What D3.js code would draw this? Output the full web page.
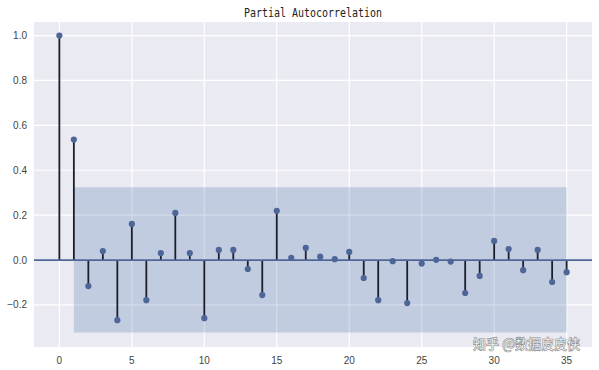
<!DOCTYPE html>
<html>
<head>
<meta charset="utf-8">
<script src="https://cdn.jsdelivr.net/npm/d3@7"></script>
<style>
  body { margin: 0; background: #fff; }
  svg { display: block; }
</style>
</head>
<body>
<svg width="599" height="370"></svg>
<script>
(function (d3) {
    'use strict';

    // partial autocorrelation per lag
    const lags = d3.range(0, 36);
    const pacf = [1.0, 0.537, -0.116, 0.040, -0.268, 0.161, -0.179, 0.031, 0.210, 0.031,
                  -0.259, 0.045, 0.045, -0.040, -0.156, 0.219, 0.010, 0.054, 0.015, 0.004,
                  0.036, -0.080, -0.179, -0.005, -0.192, -0.016, 0.001, -0.007, -0.147, -0.071,
                  0.085, 0.049, -0.045, 0.045, -0.098, -0.054];
    const confBand = [-0.323, 0.324];
    const xTicks = [0, 5, 10, 15, 20, 25, 30, 35];
    const yTicks = [-0.2, 0.0, 0.2, 0.4, 0.6, 0.8, 1.0];

    const svg = d3.select('svg');
    const left = 34, right = 592, top = 22, bottom = 347;

    const x = d3.scaleLinear().domain([-1.75, 36.75]).range([left, right]);
    const y = d3.scaleLinear().domain([-0.3875, 1.0605]).range([bottom, top]);

    const blue = '#4e6697';

    svg.append('rect')
        .attr('x', left).attr('y', top)
        .attr('width', right - left).attr('height', bottom - top)
        .attr('fill', '#eaeaf2');

    // grid
    svg.append('g').selectAll('line').data(xTicks).enter().append('line')
        .attr('x1', d => x(d)).attr('x2', d => x(d))
        .attr('y1', top).attr('y2', bottom)
        .attr('stroke', '#fff').attr('stroke-width', 1.2);
    svg.append('g').selectAll('line').data(yTicks).enter().append('line')
        .attr('x1', left).attr('x2', right)
        .attr('y1', d => y(d)).attr('y2', d => y(d))
        .attr('stroke', '#fff').attr('stroke-width', 1.2);

    // confidence interval
    const bandLags = lags.slice(1);
    svg.append('path')
        .datum(bandLags)
        .attr('d', d3.area()
            .x(d => x(d))
            .y0(y(confBand[0]))
            .y1(y(confBand[1])))
        .attr('fill', '#4c72b0')
        .attr('fill-opacity', 0.25);

    // stems
    svg.append('g').selectAll('line').data(lags).enter().append('line')
        .attr('x1', d => x(d)).attr('x2', d => x(d))
        .attr('y1', y(0)).attr('y2', d => y(pacf[d]))
        .attr('stroke', '#1c1e2c').attr('stroke-width', 1.8);

    // zero line
    svg.append('line')
        .attr('x1', left).attr('x2', right)
        .attr('y1', y(0)).attr('y2', y(0))
        .attr('stroke', blue).attr('stroke-width', 1.8);

    svg.append('g').selectAll('circle').data(lags).enter().append('circle')
        .attr('cx', d => x(d)).attr('cy', d => y(pacf[d]))
        .attr('r', 3.1)
        .attr('fill', blue);

    // tick labels
    const tickFont = '"Liberation Sans", Arial, sans-serif';
    svg.append('g').selectAll('text').data(yTicks).enter().append('text')
        .attr('x', 27).attr('y', d => y(d) + 3.5)
        .attr('text-anchor', 'end')
        .attr('font-family', tickFont).attr('font-size', 10)
        .attr('fill', '#444')
        .text(d => d3.format('.1f')(d));
    svg.append('g').selectAll('text').data(xTicks).enter().append('text')
        .attr('x', d => x(d)).attr('y', 364)
        .attr('text-anchor', 'middle')
        .attr('font-family', tickFont).attr('font-size', 10)
        .attr('fill', '#444')
        .text(d => d);

    svg.append('text')
        .attr('x', 244).attr('y', 16.5)
        .attr('font-family', '"DejaVu Sans Mono", monospace')
        .attr('font-size', 12)
        .attr('textLength', 138).attr('lengthAdjust', 'spacingAndGlyphs')
        .attr('fill', '#222')
        .text('Partial Autocorrelation');

    // watermark
    svg.append('text')
        .attr('x', 473).attr('y', 349)
        .attr('font-family', '"Noto Sans CJK SC", sans-serif')
        .attr('font-size', 14).attr('font-weight', 'bold')
        .attr('textLength', 107).attr('lengthAdjust', 'spacingAndGlyphs')
        .attr('fill', '#f6f6f6').attr('stroke', '#8a8a8a').attr('stroke-width', 0.6)
        .text('知乎 @数据皮皮侠');
}(d3));
</script>
</body>
</html>
